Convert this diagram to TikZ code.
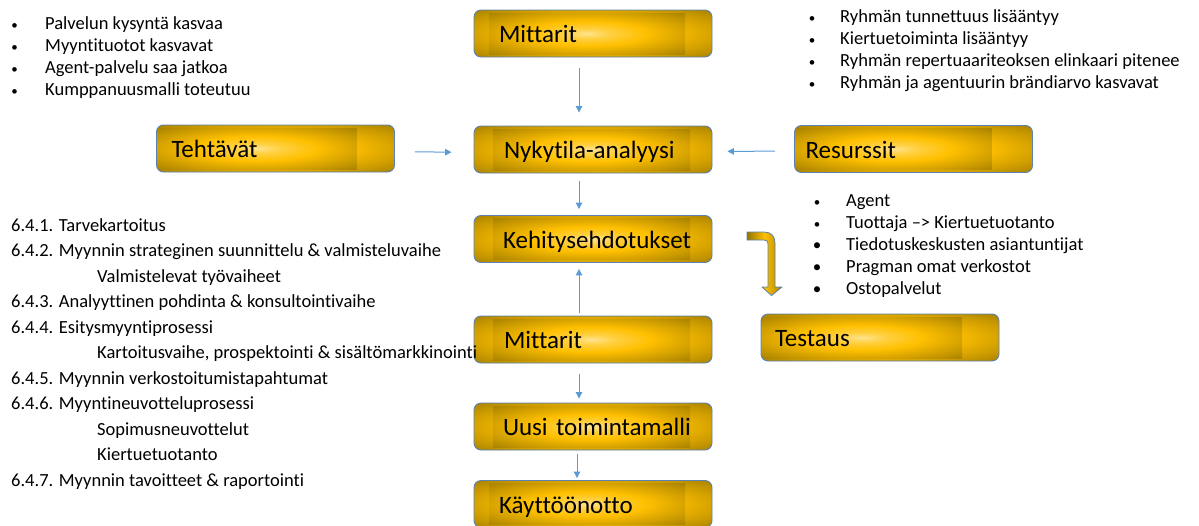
\documentclass[tikz,border=0pt]{standalone}
\usepackage{fontspec}
\setmainfont[Ligatures=NoCommon]{Carlito}
\usetikzlibrary{arrows.meta}
\definecolor{goldlt}{HTML}{FFE38F}
\definecolor{goldmid}{HTML}{FFC000}
\definecolor{golddk}{HTML}{957400}
\definecolor{boxline}{HTML}{5A82B4}
\definecolor{flowblue}{HTML}{5B9BD5}
\pgfdeclareradialshading{goldglow}{\pgfpoint{0bp}{0bp}}{color(0bp)=(goldlt); color(6bp)=(goldlt!45!goldmid); color(15bp)=(goldmid); color(28bp)=(goldmid!50!golddk); color(40bp)=(golddk); color(50bp)=(golddk)}
\tikzset{
  goldbox/.style n args={3}{draw=boxline, line width=0.9pt, rounded corners=7pt,
    minimum height=47pt, inner xsep=0pt, inner ysep=0pt, text width=238pt, align=left,
    text height=21pt, text depth=3pt, font=\fontsize{25}{30}\selectfont,
    execute at begin node={\hspace*{#1}},
    path picture={
      \shade[shading=goldglow] (path picture bounding box.south west) rectangle (path picture bounding box.north east);
      \shade[shading=goldglow, sharp corners] ([xshift=#2,yshift=3pt]path picture bounding box.south west) rectangle ([xshift=-#3,yshift=-3pt]path picture bounding box.north east);}},
  item/.style={anchor=base west, inner sep=0pt, font=\fontsize{18.5}{22}\selectfont},
  dot/.style={anchor=base, inner sep=0pt, font=\fontsize{13}{22}\selectfont},
  flow/.style={draw=flowblue, line width=1pt, -{Triangle[width=6.5pt,length=6.5pt]}}
}
\begin{document}
\begin{tikzpicture}[x=1pt, y=-1pt, line join=round]
  \useasboundingbox (0,0) rectangle (1199,525);
  % central column
  \node[goldbox={25pt}{15pt}{27pt}] (mit1) at (593,33.5) {Mittarit};
  \node[goldbox={30pt}{19pt}{22pt}] (nyky) at (593,149.5) {Nykytila-analyysi};
  \node[goldbox={29pt}{19pt}{22pt}] (kehi) at (593,239) {Kehitysehdotukset};
  \node[goldbox={30pt}{19pt}{22pt}] (mit2) at (593,339.5) {Mittarit};
  \node[goldbox={29pt}{19pt}{22pt}] (uusi) at (593,426.5) {Uusi toimintamalli};
  \node[goldbox={25pt}{15pt}{27pt}] (kayt) at (593,504) {Käyttöönotto};
  % side boxes
  \node[goldbox={15pt}{1pt}{38pt}] (teht) at (275.5,148.5) {Tehtävät};
  \node[goldbox={11pt}{1pt}{41pt}] (resu) at (913.5,149) {Resurssit};
  \node[goldbox={14pt}{1pt}{37pt}] (test) at (880,337.5) {Testaus};
  % connectors
  \draw[flow, shorten <=11pt, shorten >=13pt] ([xshift=-14pt]mit1.south) -- ([xshift=-14pt]nyky.north);
  \draw[flow, shorten <=20pt, shorten >=22pt] ([yshift=-3pt]teht.east) -- ([yshift=-3pt]nyky.west);
  \draw[flow, shorten <=19pt, shorten >=15pt] ([yshift=-2pt]resu.west) -- ([yshift=-2pt]nyky.east);
  \draw[flow, shorten <=8pt, shorten >=6pt] ([xshift=-14pt]nyky.south) -- ([xshift=-14pt]kehi.north);
  \draw[flow, shorten <=3pt, shorten >=6pt] ([xshift=-14pt]mit2.north) -- ([xshift=-14pt]kehi.south);
  \draw[flow, shorten <=11pt, shorten >=4pt] ([xshift=-14pt]mit2.south) -- ([xshift=-14pt]uusi.north);
  \draw[flow, shorten <=4pt, shorten >=2pt] ([xshift=-16pt]uusi.south) -- ([xshift=-16pt]kayt.north);
  % bent arrow towards Testaus
  \shade[draw=boxline, line width=0.8pt, left color=golddk, right color=golddk!80!goldmid, middle color=goldmid]
    (747,232) -- (764,232) .. controls (771,232) and (775,236) .. (775,243) -- (775,287)
    -- (782,287) -- (771.5,295.5) -- (762,287) -- (768,287) -- (768,245)
    .. controls (768,241) and (767,240) .. (764,240) -- (747,240) -- cycle;
  % lists
  \foreach \t [count=\i] in {Palvelun kysyntä kasvaa, Myyntituotot kasvavat, Agent-palvelu saa jatkoa, Kumppanuusmalli toteutuu}{
    \node[dot] (tlb\i) at (14.5,7+22*\i) {•};
    \node[item] (tl\i) at (45,7+22*\i) {\t};
  }
  \foreach \t [count=\i] in {Ryhmän tunnettuus lisääntyy, Kiertuetoiminta lisääntyy, Ryhmän repertuaariteoksen elinkaari pitenee, Ryhmän ja agentuurin brändiarvo kasvavat}{
    \node[dot] (trb\i) at (812,22*\i) {•};
    \node[item] (tr\i) at (840,22*\i) {\t};
  }
  \foreach \t/\s [count=\i] in {Agent/13, Tuottaja –> Kiertuetuotanto/13, Tiedotuskeskusten asiantuntijat/17, Pragman omat verkostot/17, Ostopalvelut/17}{
    \node[dot, font=\fontsize{\s}{22}\selectfont] (rsb\i) at (817,184+22*\i) {•};
    \node[item] (rs\i) at (846,184+22*\i) {\t};
  }
  \foreach \x/\t [count=\i] in {11/6.4.1. Tarvekartoitus, 11/6.4.2. Myynnin strateginen suunnittelu \& valmisteluvaihe, 97/Valmistelevat työvaiheet, 11/6.4.3. Analyyttinen pohdinta \& konsultointivaihe, 11/6.4.4. Esitysmyyntiprosessi, 97/{Kartoitusvaihe, prospektointi \& sisältömarkkinointi}, 11/6.4.5. Myynnin verkostoitumistapahtumat, 11/6.4.6. Myyntineuvotteluprosessi, 97/Sopimusneuvottelut, 97/Kiertuetuotanto, 11/6.4.7. Myynnin tavoitteet \& raportointi}
    \node[item] (ls\i) at (\x,205.5+25.5*\i) {\t};
\end{tikzpicture}
\end{document}
